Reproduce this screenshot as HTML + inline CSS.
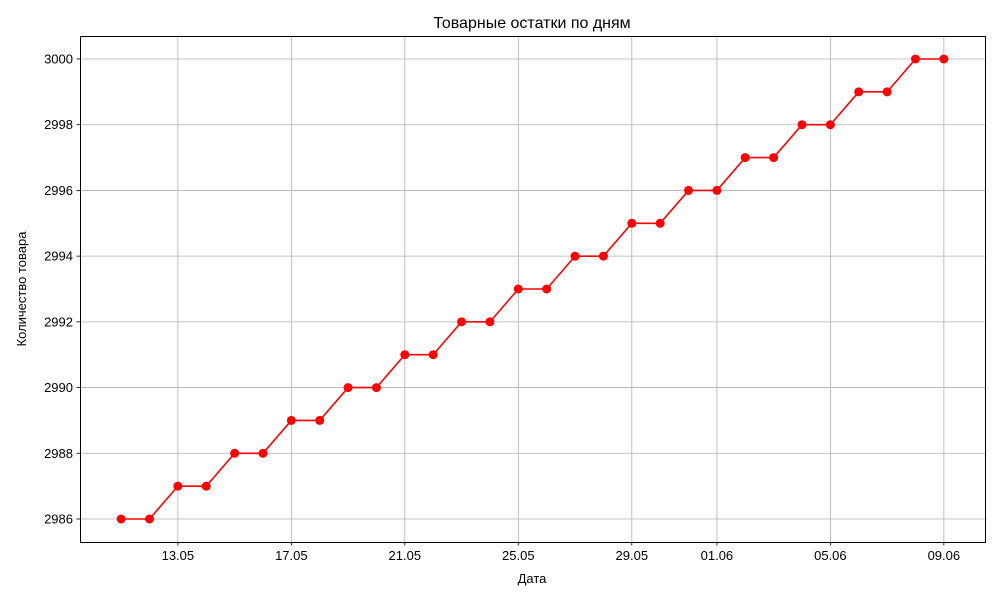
<!DOCTYPE html>
<html><head><meta charset="utf-8"><style>
body{margin:0;background:#fff;}
svg text{font-family:"Liberation Sans","DejaVu Sans",sans-serif;}
</style></head><body>
<svg id="chart" width="1000" height="600" xmlns="http://www.w3.org/2000/svg">
<rect width="1000" height="600" fill="#fff"/>
<text x="532" y="28" text-anchor="middle" font-size="16">Товарные остатки по дням</text>
<text x="532" y="583" text-anchor="middle" font-size="13">Дата</text>
<text transform="translate(26,289) rotate(-90)" text-anchor="middle" font-size="13">Количество товара</text>
<g id="grid"></g><g id="ticks"></g><g id="series"></g>
<rect x="80.5" y="36.5" width="905" height="506" fill="none" stroke="#000" stroke-width="1"/>
</svg>
<script>
const dates = ["11.05","12.05","13.05","14.05","15.05","16.05","17.05","18.05","19.05","20.05","21.05","22.05","23.05","24.05","25.05","26.05","27.05","28.05","29.05","30.05","31.05","01.06","02.06","03.06","04.06","05.06","06.06","07.06","08.06","09.06"];
const stock = [2986,2986,2987,2987,2988,2988,2989,2989,2990,2990,2991,2991,2992,2992,2993,2993,2994,2994,2995,2995,2996,2996,2997,2997,2998,2998,2999,2999,3000,3000];
const xTickLabels = ["13.05","17.05","21.05","25.05","29.05","01.06","05.06","09.06"];
const yTicks = [2986,2988,2990,2992,2994,2996,2998,3000];

const L=80,R=985,T=36,B=542;
const n=dates.length, xm=(n-1)*0.05;
const ymin=Math.min(...stock), ymax=Math.max(...stock), ym=(ymax-ymin)*0.05;
const xs=i=>L+(i+xm)/(n-1+2*xm)*(R-L);
const ys=v=>B-(v-(ymin-ym))/(ymax-ymin+2*ym)*(B-T);
const NS="http://www.w3.org/2000/svg";
function mk(tag,attrs,parent){const e=document.createElementNS(NS,tag);for(const k in attrs)e.setAttribute(k,attrs[k]);document.getElementById(parent).appendChild(e);return e;}

xTickLabels.forEach(lbl=>{
  const i=dates.indexOf(lbl);const x=xs(i);
  const g=mk('line',{x1:x,x2:x,y1:T,y2:B,stroke:'#b0b0b0','stroke-width':0.8},'grid');
  
  
  const t=mk('line',{x1:x,x2:x,y1:B,y2:B+3.5,stroke:'#000','stroke-width':0.8},'ticks');
  
  
  const tx=mk('text',{x:x,y:B+18,'text-anchor':'middle','font-size':13},'ticks');tx.textContent=lbl;
  
  
});
yTicks.forEach(v=>{
  const y=ys(v);
  const g=mk('line',{x1:L,x2:R,y1:y,y2:y,stroke:'#b0b0b0','stroke-width':0.8},'grid');
  
  
  const t=mk('line',{x1:L-3.5,x2:L,y1:y,y2:y,stroke:'#000','stroke-width':0.8},'ticks');
  
  
  const tx=mk('text',{x:L-7,y:y+4.5,'text-anchor':'end','font-size':13},'ticks');tx.textContent=v;
  
  
});
const pts=stock.map((v,i)=>xs(i)+','+ys(v)).join(' ');
const line=mk('polyline',{points:pts,fill:'none',stroke:'#ff0000','stroke-width':1.6},'series');


stock.forEach((v,i)=>{
  const c=mk('circle',{cx:xs(i),cy:ys(v),r:4.5,fill:'#ff0000'},'series');
  
  
});
</script>
</body></html>
